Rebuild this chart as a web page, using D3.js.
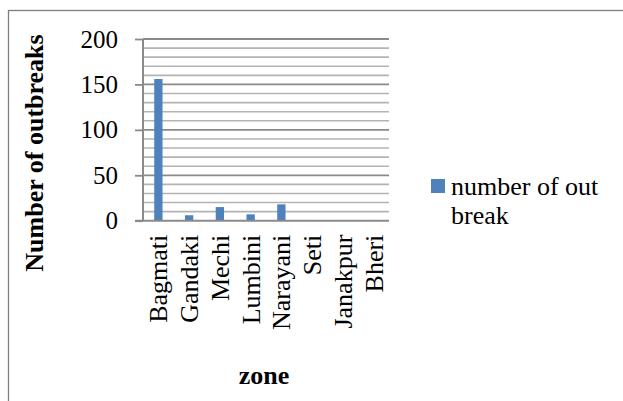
<!DOCTYPE html>
<html><head><meta charset="utf-8">
<script src="https://cdn.jsdelivr.net/npm/d3@7"></script>
<style>
html,body{margin:0;padding:0;background:#fff;}
svg{display:block;}
text{font-family:"Liberation Serif","Times New Roman",serif;fill:#000;}
</style></head>
<body>
<svg id="chart" width="623" height="401"></svg>
<script>
const categories = ["Bagmati","Gandaki","Mechi","Lumbini","Narayani","Seti","Janakpur","Bheri"];
const outbreaks = [156, 6, 15, 7, 18, 0, 0, 0];
const yTicks = [0, 50, 100, 150, 200];
const minorTicks = [10,20,30,40,60,70,80,90,110,120,130,140,160,170,180,190];
const seriesName = ["number of out", "break"];

(function(){
const svg = d3.select("#chart");
svg.append("rect").attr("x",8.5).attr("y",10.5).attr("width",700).attr("height",500)
  .attr("fill","none").attr("stroke","#7f7f7f").attr("stroke-width",1.3);

const pl = 143, pr = 389, pt = 39, pb = 220.7;
const x = d3.scaleBand().domain(categories).range([pl,pr]).padding(0);
const y = d3.scaleLinear().domain([0,200]).range([pb, pt]);

svg.append("g").selectAll("line").data(minorTicks).join("line")
  .attr("x1",pl).attr("x2",pr).attr("y1",d=>y(d)).attr("y2",d=>y(d))
  .attr("stroke","#b3b3b3").attr("stroke-width",1.6);
svg.append("g").selectAll("line").data(yTicks.filter(d=>d>0)).join("line")
  .attr("x1",pl).attr("x2",pr).attr("y1",d=>y(d)).attr("y2",d=>y(d))
  .attr("stroke","#8a8a8a").attr("stroke-width",1.8);

const barW = x.bandwidth()*0.27;
svg.append("g").selectAll("rect").data(categories).join("rect")
  .attr("x",(d)=>x(d)+x.bandwidth()/2-barW/2)
  .attr("y",(d,i)=>y(outbreaks[i]))
  .attr("width",barW)
  .attr("height",(d,i)=>y(0)-y(outbreaks[i]))
  .attr("fill","#4f81bd");

const yAxis = d3.axisLeft(y).tickValues(yTicks).tickSize(8).tickPadding(17).tickFormat(d3.format("d"));
const gy = svg.append("g").attr("transform",`translate(${pl},0)`).call(yAxis);
gy.select(".domain").attr("stroke","#8a8a8a").attr("stroke-width",2).attr("d",`M0,${pt}V${pb}`);
gy.selectAll(".tick line").attr("stroke","#8a8a8a").attr("stroke-width",1.8);
gy.selectAll(".tick text").attr("font-size",25).attr("font-family","Liberation Serif").attr("fill","#000");

svg.append("line").attr("x1",pl-8).attr("x2",pr).attr("y1",pb).attr("y2",pb)
  .attr("stroke","#8a8a8a").attr("stroke-width",2);

svg.append("g").selectAll("text").data(categories).join("text")
  .attr("transform",d=>`translate(${x(d)+x.bandwidth()/2},${pb+14}) rotate(-90)`)
  .attr("text-anchor","end").attr("dy","0.35em")
  .attr("font-size",26).text(d=>d);

svg.append("text").attr("transform",`translate(34,153) rotate(-90)`)
  .attr("text-anchor","middle").attr("dy","0.35em")
  .attr("font-size",26).attr("font-weight","bold").text("Number of outbreaks");
svg.append("text").attr("x",(pl+pr)/2-2).attr("y",384)
  .attr("text-anchor","middle").attr("font-size",26).attr("font-weight","bold").text("zone");

const lg = svg.append("g");
lg.append("rect").attr("x",431).attr("y",179).attr("width",14).attr("height",14).attr("fill","#4f81bd");
lg.selectAll("text").data(seriesName).join("text")
  .attr("x",451).attr("y",(d,i)=>195+i*29).attr("font-size",26).text(d=>d);
})();
</script>
</body></html>
